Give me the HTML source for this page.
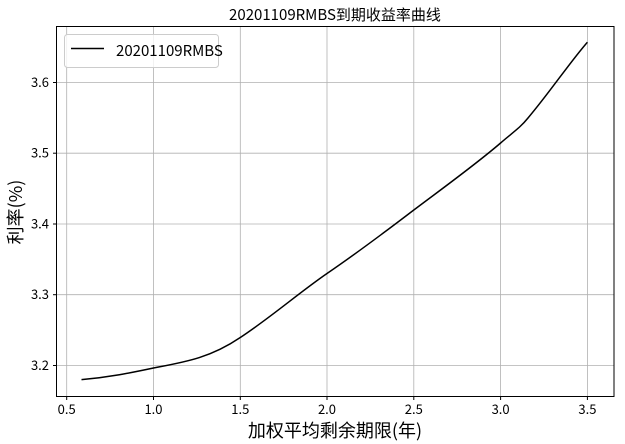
<!DOCTYPE html><html><head><style>body{margin:0;background:#fff}svg{display:block}text{font-family:"WenQuanYi Zen Hei","Noto Sans CJK SC",sans-serif}</style></head><body>
<svg width="625" height="444" xmlns="http://www.w3.org/2000/svg">
<rect width="625" height="444" fill="#fff"/>
<g stroke="#b0b0b0" stroke-width="0.8">
<line x1="66.7" y1="26.5" x2="66.7" y2="396.5"/><line x1="153.5" y1="26.5" x2="153.5" y2="396.5"/><line x1="240.3" y1="26.5" x2="240.3" y2="396.5"/><line x1="327" y1="26.5" x2="327" y2="396.5"/><line x1="413.8" y1="26.5" x2="413.8" y2="396.5"/><line x1="500.6" y1="26.5" x2="500.6" y2="396.5"/><line x1="587.4" y1="26.5" x2="587.4" y2="396.5"/>
<line x1="56.5" y1="365.5" x2="614" y2="365.5"/><line x1="56.5" y1="294.7" x2="614" y2="294.7"/><line x1="56.5" y1="224" x2="614" y2="224"/><line x1="56.5" y1="153.2" x2="614" y2="153.2"/><line x1="56.5" y1="82.5" x2="614" y2="82.5"/>
</g>
<path d="M81.5,379.6 C110,377 130,373 153.5,368 C185,362 210,358 240.3,337.5 C270,318 300,292 327,273.5 C357,253 385,232 413.8,210 C443,188 475,165 500.6,143 C512,133 520,128 528,118 C550,92 570,62 587.4,42.2" fill="none" stroke="#000" stroke-width="1.5"/>
<rect x="56.5" y="26.5" width="557.5" height="370" fill="none" stroke="#000" stroke-width="1"/>
<g stroke="#000"><line x1="66.7" y1="396.5" x2="66.7" y2="400"/><line x1="153.5" y1="396.5" x2="153.5" y2="400"/><line x1="240.3" y1="396.5" x2="240.3" y2="400"/><line x1="327" y1="396.5" x2="327" y2="400"/><line x1="413.8" y1="396.5" x2="413.8" y2="400"/><line x1="500.6" y1="396.5" x2="500.6" y2="400"/><line x1="587.4" y1="396.5" x2="587.4" y2="400"/>
<line x1="53" y1="365.5" x2="56.5" y2="365.5"/><line x1="53" y1="294.7" x2="56.5" y2="294.7"/><line x1="53" y1="224" x2="56.5" y2="224"/><line x1="53" y1="153.2" x2="56.5" y2="153.2"/><line x1="53" y1="82.5" x2="56.5" y2="82.5"/></g>
<g font-size="13" text-anchor="middle"><text x="66.7" y="414">0.5</text><text x="153.5" y="414">1.0</text><text x="240.3" y="414">1.5</text><text x="327" y="414">2.0</text><text x="413.8" y="414">2.5</text><text x="500.6" y="414">3.0</text><text x="587.4" y="414">3.5</text></g>
<g font-size="13" text-anchor="end"><text x="49" y="370">3.2</text><text x="49" y="299">3.3</text><text x="49" y="228.5">3.4</text><text x="49" y="157.5">3.5</text><text x="49" y="87">3.6</text></g>
<text x="335" y="20" font-size="15" text-anchor="middle">20201109RMBS到期收益率曲线</text>
<text x="335" y="437" font-size="18" text-anchor="middle">加权平均剩余期限(年)</text>
<text transform="translate(22,212) rotate(-90)" font-size="18" text-anchor="middle">利率(%)</text>
<rect x="64.5" y="34.5" width="154" height="33" rx="3" fill="#fff" fill-opacity="0.8" stroke="#ccc"/>
<line x1="71" y1="48.5" x2="104" y2="48.5" stroke="#000" stroke-width="1.5"/>
<text x="116" y="56" font-size="15">20201109RMBS</text>
</svg></body></html>
